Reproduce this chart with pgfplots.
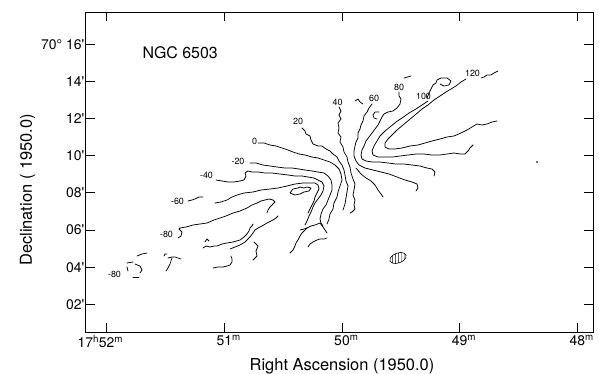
\documentclass[border=0pt]{standalone}
\usepackage{fontspec}
\setmainfont{TeX Gyre Heros}
\usepackage{pgfplots}
\pgfplotsset{compat=1.18}
\usetikzlibrary{patterns}
\tikzset{ct/.style={black, line width=0.75bp, mark=none, line join=round, line cap=round},
         cl/.style={font=\fontsize{9}{9}\selectfont, inner sep=0pt}}
\begin{document}
\begin{tikzpicture}
\useasboundingbox (-86bp,-42bp) rectangle (513bp,332bp);
\begin{axis}[at={(0,0)}, anchor=south west, scale only axis,
  width=507bp, height=320bp,
  xmin=86, xmax=593, ymin=12, ymax=332, y dir=reverse,
  axis line style={line width=1bp},
  tick align=inside, tick pos=both, xticklabel pos=lower, yticklabel pos=left,
  major tick length=9bp, tick style={line width=1bp, black},
  xtick={106.7,224.3,342,459.6,577.3},
  xticklabels={\llap{17\textsuperscript{h}}52\rlap{\textsuperscript{m}},
               51\rlap{\textsuperscript{m}}, 50\rlap{\textsuperscript{m}},
               49\rlap{\textsuperscript{m}}, 48\rlap{\textsuperscript{m}}},
  ytick={44.3,81.4,118.6,155.7,192.9,230,267.2,304.3},
  yticklabels={\llap{70° }16\textquotesingle, 14\textquotesingle, 12\textquotesingle,
               10\textquotesingle, 08\textquotesingle, 06\textquotesingle,
               04\textquotesingle, 02\textquotesingle},
  ticklabel style={font=\fontsize{14}{14}\selectfont},
  yticklabel style={inner xsep=1.5bp},
  xlabel={Right Ascension (1950.0)},
  ylabel={Declination ( 1950.0)},
  label style={font=\fontsize{16.5}{16.5}\selectfont},
  xlabel style={at={(axis cs:342,370)}, anchor=base},
  ylabel style={at={(axis cs:32,190)}, anchor=base, rotate=0},
]
% ---------- positive side ----------
\addplot[ct] coordinates {(481,78) (484,77) (487,75) (491,75) (494,73) (498,71)};
% 120
\addplot[ct] coordinates {(466,79) (461,82) (456,86) (451,89) (446,92) (440,96) (434,100) (428,105) (422,109) (415,115) (409,120) (403,125) (397,130) (392,135) (388,139) (385,143) (385,147) (389,149) (395,149) (402,148) (410,146) (418,145) (425,143) (432,141) (440,139) (447,137) (454,136) (461,133) (467,130) (472,127) (477,124) (482,125) (487,124) (492,122) (497,121)};
\addplot[ct] coordinates {(427,98) (429,93) (431,89) (433,85) (436,83) (437,80) (441,78) (447,78) (451,81) (449,85) (444,86) (440,84)};
% 100
\addplot[ct] coordinates {(428,101) (422,105) (416,109) (409,113) (402,118) (396,122) (390,127) (385,131) (380,136) (377,141) (374,146) (372,151) (373,155) (378,157) (385,157) (393,157) (400,156) (408,155) (416,154) (424,154) (432,155) (440,155) (447,154) (454,153) (460,154) (465,154) (468,151) (470,148) (473,145)};
% 80
\addplot[ct] coordinates {(399,92) (399,96) (401,99) (400,104) (397,108) (393,111) (388,112) (384,114) (382,117) (380,121) (378,125) (375,129) (372,133) (369,137) (366,141) (364,146) (362,150) (361,155) (362,159) (366,161) (372,162) (380,162) (388,163) (396,164) (404,164) (412,165) (420,166) (427,168) (432,169) (435,172) (434,176)};
% 60
\addplot[ct] coordinates {(372,104) (369,108) (367,112) (364,116) (363,121) (361,125) (360,129) (358,133) (358,138) (356,142) (355,146) (354,151) (354,156) (356,161) (359,165) (365,168) (373,170) (381,172) (389,174) (397,177) (405,180) (412,182) (417,184) (418,188) (416,191)};
\addplot[ct] coordinates {(356,168) (361,174) (366,178) (371,181) (375,185) (378,190) (381,194) (383,197)};
% 40
\addplot[ct] coordinates {(339,107) (341,111) (339,115) (341,119) (338,123) (339,128) (338,133) (341,137) (340,142) (343,147) (344,152) (347,157) (348,162) (350,167) (351,173) (353,179) (355,184) (354,190) (353,195) (355,200) (354,205) (355,209) (352,212) (350,213)};
% ---------- zero / 20 ----------
\addplot[ct] coordinates {(302,128) (305,131) (306,134) (310,136) (311,140) (313,144) (318,146) (322,146) (326,149) (330,151) (333,154) (337,157) (339,161) (342,165) (344,170) (345,175) (346,181) (348,186) (347,192) (346,198) (345,204) (343,210)};
\addplot[ct] coordinates {(258,143) (264,143) (270,145) (276,146) (282,148) (288,150) (293,152) (299,154) (305,155) (312,157) (318,158) (324,160) (330,162) (335,165) (339,169) (341,174) (342,180) (340,186) (338,192) (337,197) (334,203) (333,209) (330,214) (329,219) (327,224)};
% ---------- negative side ----------
\addplot[ct] coordinates {(250,163) (256,163) (263,165) (270,166) (277,167) (285,168) (292,168) (299,169) (305,170) (312,171) (318,172) (324,173) (328,176) (331,180) (332,185) (332,190) (330,195) (328,200) (326,205) (323,209) (321,214) (320,219) (321,223) (323,226)};
\addplot[ct] coordinates {(216,180) (222,181) (228,182) (234,182) (240,181) (244,180) (246,176) (245,173) (248,171) (252,172) (258,172) (265,173) (272,173) (280,174) (288,175) (295,176) (302,176) (308,177) (314,178) (318,180) (322,182) (324,186) (323,191) (321,195) (318,199) (315,203) (313,207) (311,212) (309,216) (307,221) (305,225)};
\addplot[ct] coordinates {(188,201) (192,200) (195,199) (199,197) (203,197)};
\addplot[ct] coordinates {(215,203) (221,202) (227,200) (232,197) (237,195) (244,193) (253,192) (261,190) (270,189) (278,188) (287,186) (295,184) (303,183) (310,183) (315,183) (318,185) (319,189) (317,193) (315,197) (314,201) (312,205) (310,209) (308,213)};
\addplot[ct] coordinates {(290,193) (293,189) (298,188) (300,187) (304,188) (307,187) (311,188) (309,191) (304,192) (300,194) (295,195) (290,193)};
\addplot[ct] coordinates {(178,238) (181,236) (182,232) (179,229) (180,228) (186,227) (193,225) (200,224) (207,223) (214,220) (220,218) (226,216) (233,213) (240,211) (247,208) (252,205) (257,203) (261,201) (265,200) (269,199) (273,200) (275,202) (272,205) (270,207) (268,210) (267,213)};
\addplot[ct] coordinates {(205,242) (207,239) (209,241)};
\addplot[ct] coordinates {(203,248) (206,246) (210,247) (214,246) (217,246) (222,244) (227,243) (233,242) (240,240) (244,237) (247,234) (249,231) (250,228) (252,226) (253,224)};
\addplot[ct] coordinates {(230,249) (235,247) (240,245) (245,242) (250,237) (253,233) (255,230) (258,228) (262,226) (267,223) (273,220) (276,218) (278,216)};
\addplot[ct] coordinates {(254,242) (258,246) (256,251) (257,256) (253,260)};
\addplot[ct] coordinates {(213,268) (218,267) (223,267) (227,266) (230,265) (232,262) (232,259) (231,256)};
\addplot[ct] coordinates {(168,258) (172,257) (175,257) (181,259)};
\addplot[ct] coordinates {(172,258) (171,261) (170,264) (168,268) (166,271)};
\addplot[ct] coordinates {(164,256) (165,254) (167,254)};
\addplot[ct] coordinates {(290,253) (293,250) (295,246) (296,243) (298,240) (300,236) (302,233) (305,230) (307,228)};
\addplot[ct] coordinates {(308,247) (310,244) (313,242) (317,240) (320,239) (324,239) (327,238)};
\addplot[ct] coordinates {(300,230) (304,229) (307,228) (311,226) (315,225) (320,223) (323,227) (325,230) (327,233)};
\addplot[ct] coordinates {(137,256) (142,254) (147,253)};
\addplot[ct] coordinates {(127,263) (133,262)};
\addplot[ct] coordinates {(135,264) (140,266) (142,270) (140,273)};
\addplot[ct] coordinates {(127,267) (128,271)};
\addplot[ct] coordinates {(133,277) (139,277)};
% small marks
\addplot[ct] coordinates {(404,78) (411,76)};
\addplot[ct] coordinates {(355,101) (358,99) (360,102) (363,104)};
\addplot[ct] coordinates {(379,112) (375,112) (373,115) (374,118) (377,119)};
\addplot[only marks, mark=*, mark size=0.5bp, black] coordinates {(537,162)};
% beam
\addplot[black, line width=0.6bp, pattern=vertical lines] coordinates {(406,255.1) (404.1,253.1) (400.5,252.5) (396.3,253.3) (392.5,255.4) (390.2,258.2) (390,260.9) (391.9,262.9) (395.5,263.5) (399.7,262.7) (403.5,260.6) (405.8,257.8) (406,255.1)} -- cycle;
% labels
\node[anchor=base west, font=\fontsize{16}{16}\selectfont] at (axis cs:139,58) {NGC 6503};
\node[cl] at (axis cs:472.5,73.5) {120};
\node[cl] at (axis cs:423.5,96) {100};
\node[cl] at (axis cs:399,87) {80};
\node[cl] at (axis cs:374,98) {60};
\node[cl] at (axis cs:337.5,102) {40};
\node[cl] at (axis cs:298,121) {20};
\node[cl] at (axis cs:254.5,141.5) {0};
\node[cl] at (axis cs:238,161) {-20};
\node[cl] at (axis cs:206.5,175) {-40};
\node[cl] at (axis cs:177.5,201) {-60};
\node[cl] at (axis cs:166.5,234) {-80};
\node[cl] at (axis cs:114.5,274.5) {-80};
\end{axis}
\end{tikzpicture}
\end{document}
